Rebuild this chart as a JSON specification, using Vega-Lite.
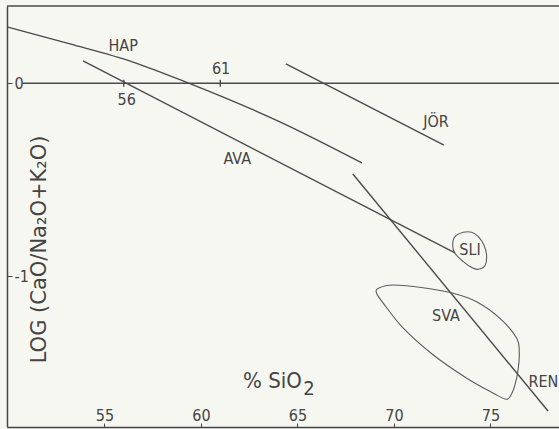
{
  "$schema": "https://vega.github.io/schema/vega-lite/v6.json",
  "width": 552,
  "height": 421,
  "autosize": "none",
  "padding": {"left": 7, "top": 6, "right": 0, "bottom": 2},
  "background": "#f7f7f2",
  "config": {"view": {"stroke": null}, "font": "DejaVu Sans Condensed, Liberation Sans Narrow, DejaVu Sans"},
  "datasets": {
    "lines": [
      {"id": "HAP", "ord": 1, "x": 49.95, "y": 0.292},
      {"id": "HAP", "ord": 2, "x": 53.21, "y": 0.204},
      {"id": "HAP", "ord": 3, "x": 56.48, "y": 0.110},
      {"id": "HAP", "ord": 4, "x": 59.33, "y": 0.002},
      {"id": "HAP", "ord": 5, "x": 64.09, "y": -0.200},
      {"id": "HAP", "ord": 6, "x": 68.34, "y": -0.413},
      {"id": "AVA", "ord": 1, "x": 53.89, "y": 0.116},
      {"id": "AVA", "ord": 2, "x": 73.16, "y": -0.879},
      {"id": "JÖR", "ord": 1, "x": 64.40, "y": 0.100},
      {"id": "JÖR", "ord": 2, "x": 72.59, "y": -0.320},
      {"id": "REN", "ord": 1, "x": 67.87, "y": -0.470},
      {"id": "REN", "ord": 2, "x": 77.98, "y": -1.698}
    ],
    "loops": [
      {"id": "SLI", "ord": 1, "x": 73.16, "y": -0.795},
      {"id": "SLI", "ord": 2, "x": 73.59, "y": -0.772},
      {"id": "SLI", "ord": 3, "x": 74.03, "y": -0.772},
      {"id": "SLI", "ord": 4, "x": 74.37, "y": -0.795},
      {"id": "SLI", "ord": 5, "x": 74.66, "y": -0.838},
      {"id": "SLI", "ord": 6, "x": 74.80, "y": -0.890},
      {"id": "SLI", "ord": 7, "x": 74.72, "y": -0.944},
      {"id": "SLI", "ord": 8, "x": 74.37, "y": -0.964},
      {"id": "SLI", "ord": 9, "x": 74.03, "y": -0.955},
      {"id": "SLI", "ord": 10, "x": 73.59, "y": -0.924},
      {"id": "SLI", "ord": 11, "x": 73.16, "y": -0.881},
      {"id": "SLI", "ord": 12, "x": 73.04, "y": -0.838},
      {"id": "SVA", "ord": 1, "x": 69.19, "y": -1.062},
      {"id": "SVA", "ord": 2, "x": 69.96, "y": -1.045},
      {"id": "SVA", "ord": 3, "x": 71.69, "y": -1.062},
      {"id": "SVA", "ord": 4, "x": 73.07, "y": -1.088},
      {"id": "SVA", "ord": 5, "x": 74.28, "y": -1.132},
      {"id": "SVA", "ord": 6, "x": 75.49, "y": -1.218},
      {"id": "SVA", "ord": 7, "x": 76.36, "y": -1.321},
      {"id": "SVA", "ord": 8, "x": 76.49, "y": -1.391},
      {"id": "SVA", "ord": 9, "x": 76.44, "y": -1.477},
      {"id": "SVA", "ord": 10, "x": 76.27, "y": -1.563},
      {"id": "SVA", "ord": 11, "x": 76.01, "y": -1.624},
      {"id": "SVA", "ord": 12, "x": 75.75, "y": -1.636},
      {"id": "SVA", "ord": 13, "x": 75.15, "y": -1.606},
      {"id": "SVA", "ord": 14, "x": 73.77, "y": -1.528},
      {"id": "SVA", "ord": 15, "x": 72.04, "y": -1.408},
      {"id": "SVA", "ord": 16, "x": 70.48, "y": -1.269},
      {"id": "SVA", "ord": 17, "x": 69.45, "y": -1.140},
      {"id": "SVA", "ord": 18, "x": 69.10, "y": -1.088}
    ],
    "rules": [
      {"x": 50.75, "x2": 78.55, "y": 0, "y2": 0},
      {"x": 56, "x2": 56, "y": -0.018, "y2": 0.018},
      {"x": 61, "x2": 61, "y": -0.018, "y2": 0.018},
      {"x": 49.95, "x2": 78.55, "y": 0.4005, "y2": 0.4005}
    ],
    "labels": [
      {"text": "HAP", "x": 55.97, "y": 0.193},
      {"text": "61", "x": 61.04, "y": 0.072},
      {"text": "56", "x": 56.15, "y": -0.087},
      {"text": "AVA", "x": 61.88, "y": -0.394},
      {"text": "JÖR", "x": 72.18, "y": -0.202},
      {"text": "SLI", "x": 73.94, "y": -0.863},
      {"text": "SVA", "x": 72.69, "y": -1.204},
      {"text": "REN", "x": 77.74, "y": -1.546}
    ]
  },
  "layer": [
    {
      "data": {"name": "lines"},
      "mark": {"type": "line", "interpolate": "monotone", "color": "#4a4a4a", "strokeWidth": 1.4},
      "encoding": {
        "x": {"field": "x", "type": "quantitative", "scale": {"domain": [49.95, 78.55], "nice": false, "zero": false},
          "axis": {"values": [55, 60, 65, 70, 75], "title": null, "grid": false, "domainColor": "#444", "domainWidth": 1.5, "tickColor": "#444", "tickSize": -4, "labelPadding": -3, "labelBaseline": "alphabetic", "labelFontSize": 16, "labelColor": "#444", "labelFont": "DejaVu Sans Condensed, Liberation Sans Narrow, DejaVu Sans"}},
        "y": {"field": "y", "type": "quantitative", "scale": {"domain": [-1.781, 0.4005], "nice": false, "zero": false},
          "axis": {"values": [0, -1], "labelExpr": "datum.value == 0 ? '0' : '-1'", "title": null, "grid": false, "domainColor": "#444", "domainWidth": 1.5, "tickColor": "#444", "tickSize": -5, "labelPadding": -2, "labelAlign": "left", "labelBaseline": "middle", "labelFontSize": 16, "labelColor": "#444", "labelFont": "DejaVu Sans Condensed, Liberation Sans Narrow, DejaVu Sans"}},
        "detail": {"field": "id"},
        "order": {"field": "ord", "type": "quantitative"}
      }
    },
    {
      "data": {"name": "loops"},
      "mark": {"type": "line", "interpolate": "cardinal-closed", "color": "#5a5a5a", "strokeWidth": 1.1},
      "encoding": {
        "x": {"field": "x", "type": "quantitative"},
        "y": {"field": "y", "type": "quantitative"},
        "detail": {"field": "id"},
        "order": {"field": "ord", "type": "quantitative"}
      }
    },
    {
      "data": {"name": "rules"},
      "mark": {"type": "rule", "color": "#4a4a4a", "strokeWidth": 1.4},
      "encoding": {
        "x": {"field": "x", "type": "quantitative"},
        "x2": {"field": "x2"},
        "y": {"field": "y", "type": "quantitative"},
        "y2": {"field": "y2"}
      }
    },
    {
      "data": {"name": "labels"},
      "mark": {"type": "text", "fontSize": 16, "color": "#444", "align": "center", "baseline": "middle", "font": "DejaVu Sans Condensed, Liberation Sans Narrow, DejaVu Sans"},
      "encoding": {
        "x": {"field": "x", "type": "quantitative"},
        "y": {"field": "y", "type": "quantitative"},
        "text": {"field": "text"}
      }
    },
    {
      "data": {"values": [{"text": "% SiO", "x": 62.18, "y": -1.579}]},
      "mark": {"type": "text", "fontSize": 22, "color": "#444", "align": "left", "baseline": "alphabetic", "font": "DejaVu Sans Condensed, Liberation Sans Narrow, DejaVu Sans"},
      "encoding": {
        "x": {"field": "x", "type": "quantitative"},
        "y": {"field": "y", "type": "quantitative"},
        "text": {"field": "text"}
      }
    },
    {
      "data": {"values": [{"text": "2", "x": 65.6, "y": -1.615}]},
      "mark": {"type": "text", "fontSize": 20, "color": "#444", "align": "center", "baseline": "alphabetic", "font": "DejaVu Sans Condensed, Liberation Sans Narrow, DejaVu Sans"},
      "encoding": {
        "x": {"field": "x", "type": "quantitative"},
        "y": {"field": "y", "type": "quantitative"},
        "text": {"field": "text"}
      }
    },
    {
      "data": {"values": [{"text": "LOG (CaO/Na₂O+K₂O)", "x": 51.97, "y": -0.861}]},
      "mark": {"type": "text", "fontSize": 21, "angle": 270, "color": "#444", "align": "center", "baseline": "alphabetic", "font": "DejaVu Sans"},
      "encoding": {
        "x": {"field": "x", "type": "quantitative"},
        "y": {"field": "y", "type": "quantitative"},
        "text": {"field": "text"}
      }
    }
  ]
}
